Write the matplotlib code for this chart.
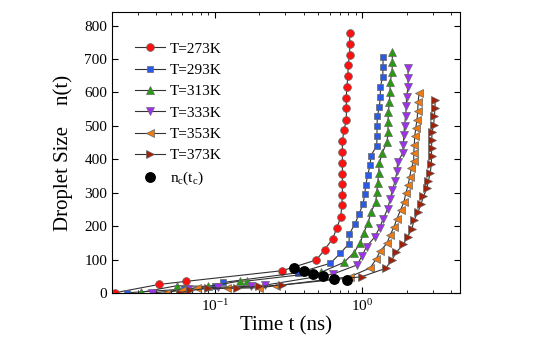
import matplotlib
matplotlib.use("Agg")
import matplotlib.pyplot as plt

plt.rcParams["font.family"] = ["Liberation Serif", "DejaVu Serif"]
plt.rcParams["mathtext.fontset"] = "stix"
plt.rcParams["mathtext.default"] = "regular"

# droplet growth n(t) for each temperature, time in ns
t_273 = [0.0209, 0.0419, 0.0633, 0.286, 0.487, 0.555, 0.630, 0.673, 0.714, 0.725,
         0.732, 0.732, 0.732, 0.732, 0.732, 0.732, 0.751, 0.779, 0.779, 0.779,
         0.784, 0.800, 0.800, 0.821, 0.821, 0.821]
n_273 = [1, 26, 35, 67, 99, 130, 163, 196, 228, 262,
         293, 325, 357, 390, 422, 456, 487, 519, 552, 584,
         617, 650, 681, 713, 746, 778]

t_293 = [0.0254, 0.062, 0.100, 0.114, 0.368, 0.606, 0.709, 0.812, 0.816, 0.892,
         0.950, 1.011, 1.038, 1.055, 1.088, 1.128, 1.146, 1.252, 1.258, 1.258,
         1.264, 1.304, 1.325, 1.325, 1.375, 1.382, 1.382]
n_293 = [1, 12, 22, 32, 61, 89, 119, 148, 177, 207,
         237, 266, 295, 323, 353, 382, 411, 441, 470, 499,
         528, 557, 587, 617, 646, 677, 705]

t_313 = [0.0313, 0.055, 0.090, 0.148, 0.164, 0.524, 0.751, 0.878, 0.969, 1.022,
         1.098, 1.140, 1.233, 1.252, 1.272, 1.292, 1.304, 1.367, 1.471, 1.494,
         1.494, 1.501, 1.525, 1.542, 1.542, 1.591, 1.598, 1.598]
n_313 = [2, 22, 20, 36, 36, 62, 92, 121, 151, 181,
         211, 241, 271, 301, 330, 360, 389, 420, 451, 481,
         511, 541, 571, 600, 630, 660, 690, 720]

t_333 = [0.0372, 0.066, 0.105, 0.175, 0.220, 0.633, 0.920, 0.995, 1.068, 1.210,
         1.308, 1.389, 1.483, 1.542, 1.598, 1.667, 1.720, 1.734, 1.881, 1.898,
         1.913, 1.934, 1.965, 1.989, 1.995, 2.043, 2.043, 2.043]
n_333 = [0, 12, 18, 20, 24, 57, 84, 111, 139, 167,
         195, 223, 251, 280, 307, 335, 364, 392, 418, 444,
         473, 501, 529, 558, 586, 615, 644, 673]

t_353 = [0.0463, 0.060, 0.075, 0.120, 0.200, 0.260, 0.825, 1.128, 1.239, 1.319,
         1.471, 1.542, 1.641, 1.720, 1.817, 1.919, 1.971, 2.043, 2.098, 2.151,
         2.234, 2.234, 2.254, 2.268, 2.304, 2.351, 2.377, 2.388, 2.427]
n_353 = [1, 10, 15, 14, 16, 22, 49, 75, 101, 125,
         149, 173, 198, 223, 248, 273, 298, 322, 348, 373,
         396, 419, 444, 469, 493, 519, 544, 570, 597]

t_373 = [0.0579, 0.068, 0.090, 0.140, 0.200, 0.284, 0.990, 1.440, 1.580, 1.700,
         1.900, 2.030, 2.170, 2.240, 2.380, 2.500, 2.600, 2.740, 2.810, 2.890,
         2.940, 2.950, 2.950, 2.960, 2.970, 3.050, 3.080, 3.115, 3.115]
n_373 = [1, 8, 14, 16, 20, 24, 49, 74, 98, 122,
         146, 169, 192, 218, 241, 266, 289, 313, 336, 360,
         385, 409, 433, 457, 481, 504, 528, 553, 578]

# critical size n_c at t_c for each temperature
t_c = [0.345, 0.404, 0.465, 0.538, 0.645, 0.784]
n_c = [76, 66, 56, 51, 43, 40]

fig = plt.figure(figsize=(5.45, 3.57), dpi=100)
ax = fig.add_axes([0.2055, 0.179, 0.6385, 0.787])

edge = "#666666"
ax.plot(t_273, n_273, "-o", color="#333333", lw=0.8, ms=5.6, mfc="#ff1010", mec=edge, mew=0.5, label="T=273K")
ax.plot(t_293, n_293, "-s", color="#333333", lw=0.8, ms=3.9, mfc="#2a5ae6", mec=edge, mew=0.5, label="T=293K")
ax.plot(t_313, n_313, "-^", color="#333333", lw=0.8, ms=6, mfc="#2a9a10", mec=edge, mew=0.5, label="T=313K")
ax.plot(t_333, n_333, "-v", color="#333333", lw=0.8, ms=6, mfc="#a030f0", mec=edge, mew=0.5, label="T=333K")
ax.plot(t_353, n_353, "-<", color="#333333", lw=0.8, ms=6, mfc="#f07a10", mec=edge, mew=0.5, label="T=353K")
ax.plot(t_373, n_373, "->", color="#333333", lw=0.8, ms=6, mfc="#a02008", mec=edge, mew=0.5, label="T=373K")
ax.plot(t_c, n_c, "o", color="black", ms=6.8, label=r"n$_{c}$(t$_{c}$)")

ax.set_xscale("log")
ax.set_xlim(0.02, 4.6)
ax.set_ylim(0, 840)
ax.set_yticks(range(0, 801, 100))
ax.tick_params(which="both", direction="in", top=True, right=True, labelsize=11)
ax.tick_params(which="major", length=4)
ax.tick_params(which="minor", length=2.5)

ax.set_xlabel("Time t (ns)", fontsize=15, labelpad=2)
ax.set_ylabel("Droplet Size    n(t)", fontsize=15, labelpad=8)

ax.legend(loc="upper left", bbox_to_anchor=(0.048, 0.915), frameon=False, fontsize=11,
          handlelength=2.0, handletextpad=0.3, labelspacing=0.5, borderaxespad=0)

fig.savefig("out.png", dpi=100)
